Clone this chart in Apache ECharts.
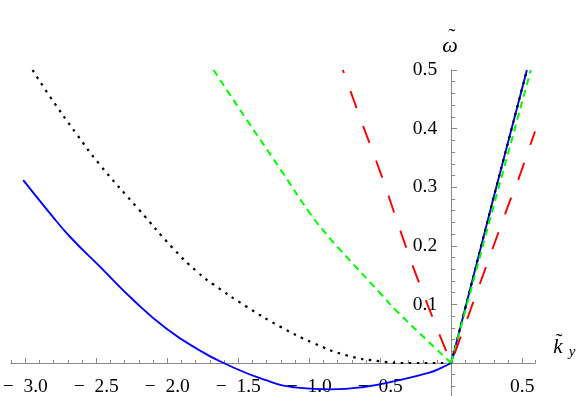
<!DOCTYPE html>
<html><head><meta charset="utf-8">
<script src="https://cdn.jsdelivr.net/npm/echarts@6/dist/echarts.min.js"></script>
<style>html,body{margin:0;padding:0;background:#fff}#c{width:581px;height:396px}</style>
</head><body><div id="c"></div>
<script>
// ---- data ----
const blueX  = [-3.014, -2.824, -2.683, -2.472, -2.237, -2.002, -1.768, -1.603, -1.322, -1.087, -0.852, -0.617, -0.382, -0.148, -0.077, 0, 0.294, 0.533];
const blueY  = [0.312, 0.255, 0.215, 0.164, 0.107, 0.058, 0.021, 0.0, -0.028, -0.042, -0.045, -0.041, -0.030, -0.016, -0.009, 0, 0.278, 0.5];
const blackX = [-2.948, -2.824, -2.636, -2.48, -2.2, -1.96, -1.791, -1.674, -1.44, -1.204, -0.969, -0.735, -0.5, -0.3, 0, 0.294, 0.533];
const blackY = [0.5, 0.454, 0.39, 0.34, 0.262, 0.196, 0.156, 0.134, 0.096, 0.062, 0.034, 0.013, 0.003, 0.0, 0, 0.278, 0.5];
const greenX = [-1.674, -1.44, -1.204, -0.993, -0.852, -0.782, -0.5, -0.382, 0, 0.31, 0.561];
const greenY = [0.5, 0.415, 0.331, 0.255, 0.212, 0.193, 0.119, 0.088, 0, 0.278, 0.5];
const redX   = [-0.763, -0.618, -0.488, -0.36, -0.242, -0.077, 0, 0.415, 0.467, 0.59];
const redY   = [0.5, 0.403, 0.318, 0.227, 0.147, 0.045, 0, 0.278, 0.309, 0.395];

const xMajorTicks = [-3.0, -2.5, -2.0, -1.5, -1.0, -0.5, 0.5];
const yMajorTicks = [0.1, 0.2, 0.3, 0.4, 0.5];

const X_MIN = -3.1, X_MAX = 0.59, Y_MIN = -0.1, Y_MAX = 0.5;

function branch(xs, ys, left) {
  const out = [];
  for (let i = 0; i < xs.length; i++) {
    if (left ? xs[i] <= 0 : xs[i] >= 0) out.push([xs[i], ys[i]]);
  }
  return out;
}
function isMajor(v, list) {
  return list.some(t => Math.abs(t - v) < 1e-6);
}

const AX = '#8a8a8a';
const FONT = 'Liberation Serif';
const chart = echarts.init(document.getElementById('c'), null, {renderer: 'canvas'});

function xAxes(offset) {
  return [
    { // minor ticks + labels
      type: 'value', min: X_MIN, max: X_MAX, interval: 0.1, position: 'bottom', offset: offset,
      axisLine: {show: true, onZero: false, lineStyle: {color: AX, width: 1}},
      splitLine: {show: false},
      axisTick: {show: true, inside: true, length: 3, lineStyle: {color: AX, width: 1}},
      axisLabel: {show: true, margin: 14, color: '#000', fontFamily: FONT, fontSize: 19.5,
        showMinLabel: true, showMaxLabel: true,
        formatter: v => isMajor(v, xMajorTicks) ? (v < 0 ? '\u2212\u2002' + (-v).toFixed(1) : v.toFixed(1)) : ''}
    },
    { // major ticks
      type: 'value', min: X_MIN, max: X_MAX, position: 'bottom', offset: offset,
      axisLine: {show: true, onZero: false, lineStyle: {color: AX, width: 1}},
      splitLine: {show: false},
      axisTick: {show: true, inside: true, length: 5, customValues: xMajorTicks, lineStyle: {color: AX, width: 1}},
      axisLabel: {show: false}
    }
  ];
}
function yAxes(offset) {
  return [
    { // major ticks + labels
      type: 'value', min: Y_MIN, max: Y_MAX, interval: 0.1, position: 'left', offset: offset,
      axisLine: {show: true, onZero: false, lineStyle: {color: AX, width: 1}},
      splitLine: {show: false},
      axisTick: {show: true, inside: true, length: 6, lineStyle: {color: AX, width: 1}},
      axisLabel: {show: true, margin: 14, color: '#000', fontFamily: FONT, fontSize: 19.5,
        showMinLabel: true, showMaxLabel: true,
        formatter: v => isMajor(v, yMajorTicks) ? v.toFixed(1) : ''}
    },
    { // minor ticks
      type: 'value', min: Y_MIN, max: Y_MAX, interval: 0.02, position: 'left', offset: offset,
      axisLine: {show: true, onZero: false, lineStyle: {color: AX, width: 1}},
      splitLine: {show: false},
      axisTick: {show: true, inside: true, length: 4, lineStyle: {color: AX, width: 1}},
      axisLabel: {show: false}
    }
  ];
}

function lineSeries(data, color, width, dash, offset, z, smooth) {
  return {
    type: 'line', data: data, xAxisIndex: 0, yAxisIndex: 0,
    showSymbol: false, symbol: 'none', smooth: smooth, z: z,
    clip: true, silent: true,
    lineStyle: {color: color, width: width, type: dash, dashOffset: offset || 0, cap: 'butt'}
  };
}

chart.setOption({
  animation: false,
  backgroundColor: '#fff',
  grid: {left: 11, right: 46, top: 70, bottom: -25.6, containLabel: false, outerBoundsMode: 'none'},
  xAxis: xAxes(0),
  yAxis: yAxes(0),
  series: [
    lineSeries(branch(blueX, blueY, true), '#0000ff', 1.9, 'solid', 0, 2, 0.5),
    lineSeries(branch(blueX, blueY, false), '#0000ff', 1.9, 'solid', 0, 2, false),
    lineSeries(branch(blackX, blackY, true), '#000000', 2.2, [2.5, 5.5], 0, 3, 0.5),
    lineSeries(branch(blackX, blackY, false), '#000000', 2.2, [2.5, 5.5], 0, 3, false),
    lineSeries(branch(greenX, greenY, true), '#00ff00', 2, [7, 5], 0, 4, 0.5),
    lineSeries(branch(greenX, greenY, false), '#00ff00', 2, [7, 5], 0, 4, false),
    lineSeries(branch(redX, redY, true), '#ff0000', 1.9, [18, 19], 14.5, 5, 0.4),
    lineSeries(branch(redX, redY, false), '#ff0000', 1.9, [18, 19], 27, 5, false)
  ],
  graphic: [
    {type: 'text', x: 450, y: 45.8, style: {text: '\u03c9', fill: '#000', font: 'italic 22px "Liberation Serif"', align: 'center', verticalAlign: 'middle', textAlign: 'center', textVerticalAlign: 'middle'}},
    {type: 'text', x: 452, y: 37, style: {text: '\u02dc', fill: '#000', font: '22px "Liberation Serif"', align: 'center', verticalAlign: 'middle', textAlign: 'center', textVerticalAlign: 'middle'}},
    {type: 'text', x: 558, y: 347.6, style: {text: 'k', fill: '#000', font: 'italic 21px "Liberation Serif"', align: 'center', verticalAlign: 'middle', textAlign: 'center', textVerticalAlign: 'middle'}},
    {type: 'text', x: 559, y: 342, style: {text: '\u02dc', fill: '#000', font: '21px "Liberation Serif"', align: 'center', verticalAlign: 'middle', textAlign: 'center', textVerticalAlign: 'middle'}},
    {type: 'text', x: 572, y: 352.5, style: {text: 'y', fill: '#000', font: 'italic 15px "Liberation Serif"', align: 'center', verticalAlign: 'middle', textAlign: 'center', textVerticalAlign: 'middle'}}
  ]
});

// Move the axes onto the data origin (ECharts 6 keeps onZero labels at the grid edge).
const origin = chart.convertToPixel({gridIndex: 0}, [0, 0]);
const corner = chart.convertToPixel({gridIndex: 0}, [X_MIN, Y_MIN]);
chart.setOption({
  xAxis: xAxes(-(corner[1] - origin[1])),
  yAxis: yAxes(-(origin[0] - corner[0]))
});
</script></body></html>
